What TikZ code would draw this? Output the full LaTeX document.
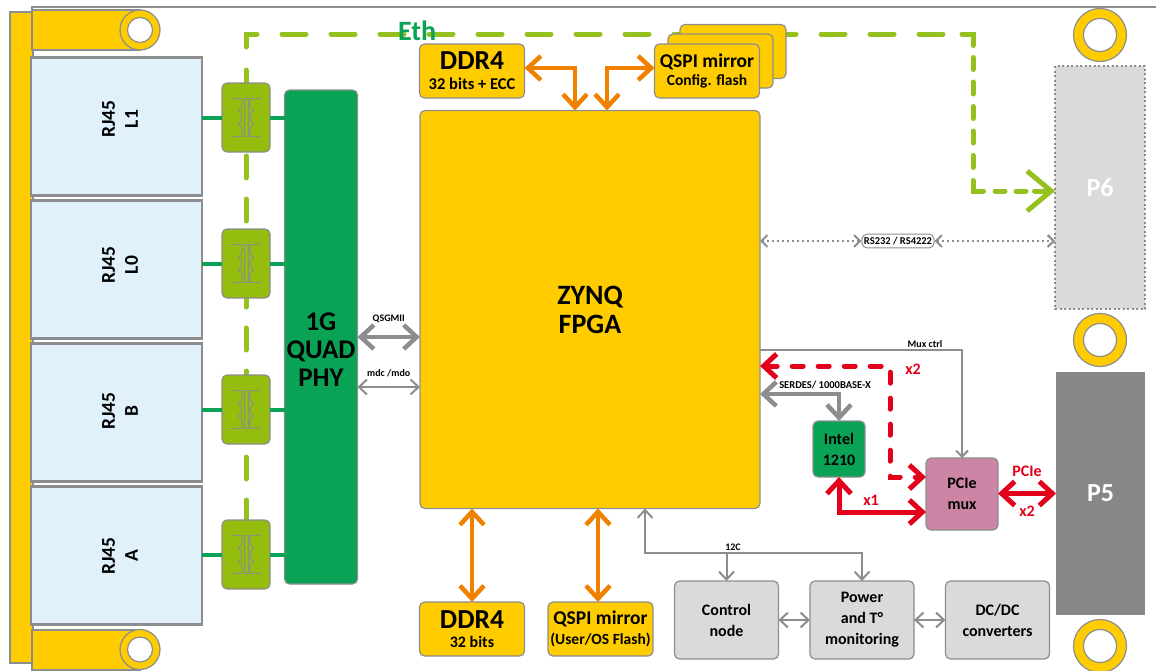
\documentclass[tikz,border=0pt]{standalone}
\usepackage{fontspec}
\setmainfont{Carlito}
\usetikzlibrary{arrows.meta,positioning,calc,backgrounds}

\definecolor{bordergrey}{HTML}{8C8D8F}
\definecolor{railyellow}{HTML}{FFCC00}
\definecolor{jackblue}{HTML}{E0F1FB}
\definecolor{phygreen}{HTML}{0AA356}
\definecolor{xflime}{HTML}{95BD0E}
\definecolor{ethlime}{HTML}{95C11F}
\definecolor{memorange}{HTML}{F08000}
\definecolor{pcired}{HTML}{E2001A}
\definecolor{muxpink}{HTML}{CC85A5}
\definecolor{boxgrey}{HTML}{D9DADB}
\definecolor{connblack}{HTML}{878787}

\tikzset{
  bigtip/.tip={Straight Barb[length=13pt,width=24pt]},
  midtip/.tip={Straight Barb[length=8pt,width=15pt]},
  lowtip/.tip={Straight Barb[length=6pt,width=12pt]}
}

\begin{document}
\begin{tikzpicture}[
    x=1pt, y=-1pt,
    font=\bfseries,
    node distance=5pt and 20pt,
    block/.style={draw=bordergrey, line width=1.2pt, rounded corners=5pt, align=center, inner sep=0pt, outer sep=0pt, text=black},
    mem/.style={block, fill=railyellow, minimum width=105pt, minimum height=54pt},
    jack/.style={draw=bordergrey, line width=2.4pt, fill=jackblue, minimum width=171pt, minimum height=138pt, inner sep=0pt, outer sep=0pt},
    jacklab/.style={rotate=90, align=center, font=\bfseries\fontsize{19.5}{23}\selectfont, inner sep=0pt},
    xfmr/.style={block, fill=xflime, minimum width=48pt, minimum height=69pt},
    svc/.style={block, fill=boxgrey, minimum width=104pt, minimum height=78pt, font=\bfseries\fontsize{16}{21}\selectfont},
    ring/.style={circle, draw=bordergrey, line width=1.2pt, fill=railyellow, inner sep=0pt},
    hole/.style={circle, draw=bordergrey, line width=1.2pt, fill=white, inner sep=0pt},
    tab/.style={draw=bordergrey, line width=1.2pt, fill=railyellow},
    eth/.style={draw=ethlime, line width=5pt, line cap=round},
    gndlink/.style={draw=phygreen, line width=4pt},
    orarr/.style={draw=memorange, line width=4.5pt, bigtip-bigtip},
    thickarr/.style={draw=bordergrey, line width=4.5pt},
    thinarr/.style={draw=bordergrey, line width=2pt},
    redarr/.style={draw=pcired, line width=5pt},
    tinylab/.style={font=\bfseries\fontsize{10}{12}\selectfont, inner sep=0pt, text=black},
    redlab/.style={font=\bfseries\fontsize{16}{18}\selectfont, text=pcired, inner sep=0pt},
    portlab/.style={font=\bfseries\fontsize{26}{30}\selectfont, text=white, inner sep=0pt}
  ]
    \useasboundingbox (0,0) rectangle (1156,670);

    % board edge and the front rail
    \draw[bordergrey, line width=1.2pt] (32,10) -- (32,7) -- (1156,7);
    \draw[tab] (10,12) rectangle (33,663);
    \draw[tab] (32,10) rectangle (140,50);
    \draw[tab] (32,630) rectangle (140,670);
    \node[ring, minimum size=40pt] (tabtop) at (140,30) {};
    \node[hole, minimum size=25pt] at (tabtop) {};
    \node[ring, minimum size=40pt] (tabbot) at (140,649.5) {};
    \node[hole, minimum size=25pt] at (tabbot) {};
    \foreach \name/\y in {ringa/35,ringb/340,ringc/646} {
      \node[ring, minimum size=53pt] (\name) at (1100,\y) {};
      \node[hole, minimum size=33pt] at (\name) {};
    }

    % connectors on the back panel
    \node[jack, anchor=north west] (rjl1) at (31,57.5) {};
    \node[jack, below=of rjl1] (rjl0) {};
    \node[jack, below=of rjl0] (rjb) {};
    \node[jack, below=of rjb] (rja) {};

    \node[block, fill=phygreen, minimum width=73pt, minimum height=494pt] (phy) at (321,337) {};
    \node[font=\bfseries\fontsize{27}{28}\selectfont, align=center, inner sep=0pt] (phylab) at (321,350) {1G\\QUAD\\PHY};
    \node[xfmr] (xfl1) at (246,117.5) {};
    \node[xfmr] (xfl0) at (246,263.5) {};
    \node[xfmr] (xfb) at (246,409.5) {};
    \node[xfmr] (xfa) at (246,554.5) {};
    \foreach \name/\xf in {rjl1/xfl1,rjl0/xfl0,rjb/xfb,rja/xfa} {
      \draw[gndlink] (\name.east |- \xf) -- (\xf.west);
    }

    \node[block, fill=railyellow, minimum width=340pt, minimum height=398pt, font=\bfseries\fontsize{28}{29}\selectfont] (fpga) at (590,309.5) {ZYNQ\\FPGA};

    \node[block, fill=railyellow, minimum width=106pt, minimum height=54pt] (qspiback) at (733,51.5) {};
    \node[block, fill=railyellow, minimum width=105pt, minimum height=54pt] (qspimid) at (720.5,61) {};
    \node[mem] (ddrtop) at (472,71) {\fontsize{27.5}{29}\selectfont DDR4\\[8pt]\fontsize{16.5}{17}\selectfont 32 bits + ECC};
    \node[mem] (qspitop) at (707,71) {\fontsize{19.5}{21}\selectfont QSPI mirror\\[4pt]\fontsize{15.5}{16}\selectfont Config. flash};
    \node[mem] (ddrbot) at (472,629) {\fontsize{27.5}{29}\selectfont DDR4\\[7pt]\fontsize{16}{17}\selectfont 32 bits};
    \node[mem] (qspibot) at (600.5,629) {\fontsize{19.5}{21}\selectfont QSPI mirror\\[5pt]\fontsize{15.5}{16}\selectfont (User/OS Flash)};

    \node[fill=boxgrey, minimum width=90pt, minimum height=243pt, inner sep=0pt, outer sep=0pt] (p6) at (1100,187.5) {};
    \draw[bordergrey, line width=2pt, dash pattern=on 2pt off 2.5pt] (p6.north west) rectangle (p6.south east);
    \node[portlab] at (p6) {P6};
    \node[fill=connblack, minimum width=89pt, minimum height=243pt, inner sep=0pt, outer sep=0pt] (p5) at (1100.5,493.5) {};
    \node[portlab] at (p5) {P5};

    \node[block, fill=phygreen, minimum width=52pt, minimum height=56pt, font=\bfseries\fontsize{16}{21}\selectfont] (intel) at (839,449) {Intel\\1210};
    \node[block, fill=muxpink, minimum width=72pt, minimum height=72pt, font=\bfseries\fontsize{16}{21}\selectfont] (mux) at (962,494) {PCIe\\mux};

    \node[svc] (ctrl) at (726.5,620) {Control\\node};
    \node[svc] (power) at (862,620) {Power\\and T°\\monitoring};
    \node[svc] (dcdc) at (997.5,620) {DC/DC\\converters};

    % Eth runs behind the transformers and the flash stack
    \coordinate (ethrise) at (xfa.north |- 0,60);
    \coordinate (ethbend) at (xfa.north |- 0,47);
    \coordinate (ethcorner) at (xfa.north |- 0,34);
    \coordinate (ethrun) at (962,34);
    \coordinate (ethdrop) at (973,191);
    \begin{scope}[on background layer]
      \draw[eth, dash pattern=on 22pt off 21pt, dash phase=2pt] (xfa.north) -- (ethrise);
      \draw[eth, dash pattern=on 24pt off 25pt] (ethbend) -- (ethcorner) -- (ethrun);
      \draw[eth, dash pattern=on 22.5pt off 12pt on 12pt off 12.5pt on 12pt off 12.5pt on 12pt off 12.5pt on 12pt off 12.5pt on 12pt off 13pt on 21pt off 11.5pt on 10pt off 11pt on 10pt off 8.5pt on 30pt, -{Straight Barb[length=24pt,width=40pt]}] (ethrun) -| (ethdrop) -- (ethdrop -| p6.west);
    \end{scope}
    \node[font=\bfseries\fontsize{28}{30}\selectfont, text=phygreen, inner sep=0pt] (ethlab) at (417,31) {Eth};

    \foreach \name/\xf/\lab in {rjl1/xfl1/L1,rjl0/xfl0/L0,rjb/xfb/B,rja/xfa/A} {
      \node[jacklab, yshift=-3.5pt, xshift=-1.5pt] at (\name.center |- \xf) {RJ45\\\lab};
      \draw[gndlink] (\xf.east) -- (\xf.east -| phy.west);
      \begin{scope}[shift={(\xf.center)}, bordergrey, line width=0.9pt]
        \draw (-2,-19) rectangle (2,19);
        \foreach \s in {-1,1}
          \draw (14*\s,-19) -- (5*\s,-19)
            .. controls (3*\s,-17) and (3*\s,-8) .. (7.5*\s,-6.5)
            .. controls (3*\s,-5) and (3*\s,5) .. (7.5*\s,6.5)
            .. controls (3*\s,8) and (3*\s,17) .. (5*\s,19) -- (14*\s,19);
      \end{scope}
    }

    % memories
    \draw[orarr] (ddrtop.east |- 0,68) -| (575,110.5);
    \draw[orarr] (qspitop.west |- 0,68) -| (607,110.5);
    \draw[orarr] (ddrbot.north) -- (ddrbot.north |- fpga.south);
    \draw[orarr] (598,602) -- (598,508.5);

    % phy to fpga
    \draw[thickarr, bigtip-bigtip] (phy.east |- 0,337) -- (fpga.west |- 0,337) node[tinylab, midway, above=12pt] {QSGMII};
    \draw[thinarr, midtip-midtip] (phy.east |- 0,387) -- (fpga.west |- 0,387) node[tinylab, midway, above=9pt] {mdc /mdo};

    % serial link
    \node[draw=bordergrey, line width=1pt, rounded corners=5pt, fill=white, inner xsep=2pt, inner ysep=3pt, font=\bfseries\fontsize{10.5}{11}\selectfont] (serial) at (898,241) {RS232 / RS4222};
    \draw[bordergrey, line width=2pt, dash pattern=on 2pt off 3pt, lowtip-lowtip] (fpga.east |- serial) -- (serial.west);
    \draw[bordergrey, line width=2pt, dash pattern=on 2pt off 3pt, lowtip-lowtip] (serial.east) -- (serial -| p6.west);

    % pcie side
    \draw[thinarr, -lowtip] (fpga.east |- 0,350) -| (mux.north);
    \node[tinylab, anchor=south] (muxlab) at (925,348) {Mux ctrl};
    \draw[redarr, dash pattern=on 11pt off 15pt, line cap=round, bigtip-bigtip] (fpga.east |- 0,366) -| (890,477) -- (mux.west |- 0,477);
    \node[redlab] (xtwo) at (913,369) {x2};
    \draw[thickarr, bigtip-bigtip] (fpga.east |- 0,394) -| (intel.north);
    \node[tinylab, font=\bfseries\fontsize{10.5}{12}\selectfont] (serdes) at (825,385) {SERDES/ 1000BASE-X};
    \draw[redarr, bigtip-bigtip] (intel.south) |- (mux.west |- 0,512);
    \node[redlab] (xone) at (871,500) {x1};
    \draw[redarr, bigtip-bigtip] (mux.east |- p5) -- (p5.west);
    \node[redlab] (pcielab) at (1027,471) {PCIe};
    \node[redlab] (xtwob) at (1027,511) {x2};

    % i2c and power management
    \coordinate (itwoc) at (645,553);
    \draw[thinarr, midtip-midtip] (fpga.south -| itwoc) -- (itwoc) -| (power.north);
    \draw[thinarr, -midtip] (ctrl.north |- itwoc) -- (ctrl.north);
    \node[tinylab, anchor=south] (itwolab) at (733,551) {12C};
    \draw[thinarr, midtip-midtip] (ctrl.east) -- (power.west);
    \draw[thinarr, midtip-midtip] (power.east) -- (dcdc.west);
  \end{tikzpicture}
\end{document}
